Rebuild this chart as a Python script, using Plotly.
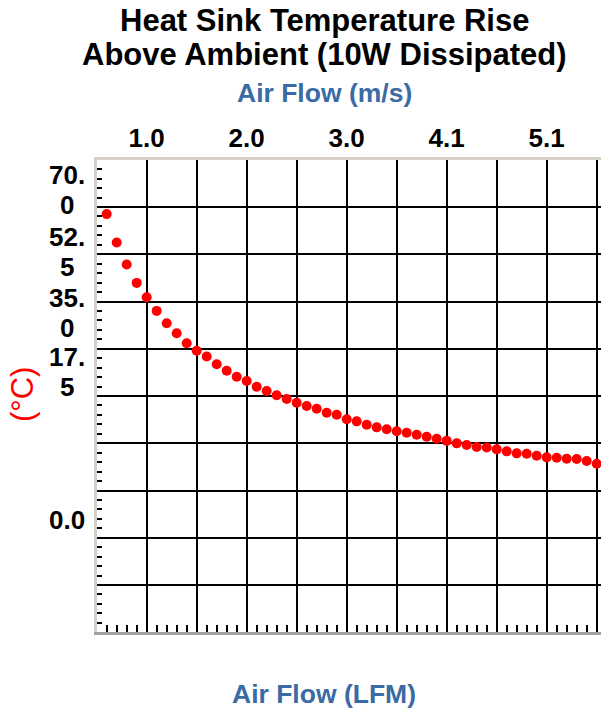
import plotly.graph_objects as go

# ---------------- data ----------------
airflow_lfm = [120, 140, 160, 180, 200, 220, 240, 260, 280, 300,
               320, 340, 360, 380, 400, 420, 440, 460, 480, 500,
               520, 540, 560, 580, 600, 620, 640, 660, 680, 700,
               720, 740, 760, 780, 800, 820, 840, 860, 880, 900,
               920, 940, 960, 980, 1000, 1020, 1040, 1060, 1080, 1100]
temp_rise_c = [59.44, 53.92, 49.64, 46.08, 43.30, 40.64, 38.25, 36.30, 34.36, 32.90,
               31.79, 30.28, 29.03, 27.86, 27.03, 25.92, 25.08, 24.25, 23.53, 22.81,
               22.17, 21.64, 20.86, 20.47, 19.58, 19.19, 18.53, 18.02, 17.64, 17.25,
               16.98, 16.59, 16.20, 15.81, 15.40, 14.91, 14.58, 14.19, 14.10, 13.75,
               13.36, 12.97, 12.89, 12.50, 12.19, 12.11, 11.92, 11.86, 11.47, 10.95]
top_tick_lfm = [200, 400, 600, 800, 1000]
top_tick_labels = ["1.0", "2.0", "3.0", "4.1", "5.1"]
y_tick_labels = ["70.0", "52.5", "35.0", "17.5", "0.0"]

LFM_TO_MS = 0.00508

# ---------------- layout constants ----------------
W, H = 601, 712
L, T = 97, 160
PW, PH = 504, 472
R, B = W - L - PW, H - T - PH
X_RANGE = [100.6, 1108.6]
Y_TOP, Y_BOTTOM = 70.0, -21.778
Y_RANGE = [Y_BOTTOM + 0.05, Y_TOP - 0.05]
Y_STEP = (Y_TOP - Y_BOTTOM) / 10
Y_LABEL_POS = [64.1, 52.1, 40.25, 28.7, 0.0]   # where the reference draws its labels

FONT = "Liberation Sans, Arial, sans-serif"
BLUE = "#3A6BA5"


def px_x(px):
    return (px - L) / PW


def px_y(py):
    return (H - B - py) / PH


fig = go.Figure()
fig.add_trace(go.Scatter(
    x=airflow_lfm, y=temp_rise_c, mode="markers",
    marker=dict(color="#FF0000", size=10, line=dict(width=0)),
    xaxis="x", yaxis="y",
    hovertemplate="%{x} LFM<br>%{y:.1f} °C<extra></extra>"))
fig.add_trace(go.Scatter(
    x=[v * LFM_TO_MS for v in airflow_lfm], y=temp_rise_c, mode="markers",
    marker=dict(opacity=0, size=1), xaxis="x2", yaxis="y",
    hoverinfo="skip"))

annotations = [
    dict(text="<b>Heat Sink Temperature Rise</b>", x=px_x(324), y=px_y(20.2),
         font=dict(size=31, color="black")),
    dict(text="<b>Above Ambient (10W Dissipated)</b>", x=px_x(324), y=px_y(54.9),
         font=dict(size=31, color="black")),
    dict(text="<b>Air Flow (m/s)</b>", x=px_x(324), y=px_y(93),
         font=dict(size=26.5, color=BLUE)),
    dict(text="<b>Air Flow (LFM)</b>", x=px_x(324), y=px_y(694),
         font=dict(size=26.5, color=BLUE)),
    dict(text="(°C)", x=px_x(22), y=px_y(395), textangle=-90,
         font=dict(size=31, color="#FF0000")),
]
for a in annotations:
    a.update(xref="paper", yref="paper", xanchor="center", yanchor="middle",
             showarrow=False)

# y labels, wrapped as in the reference ("70." over "0")
LINE_GAP = 30
for lab, pos in zip(y_tick_labels, Y_LABEL_POS):
    parts = [lab] if len(lab) <= 3 else [lab[:3], lab[3:]]
    n = len(parts)
    for i, part in enumerate(parts):
        shift = ((n - 1) / 2 - i) * LINE_GAP
        annotations.append(dict(
            text="<b>" + part + "</b>", xref="paper", yref="y", x=px_x(67), y=pos,
            yshift=shift, xanchor="center", yanchor="middle", showarrow=False,
            font=dict(size=26, color="black")))

fig.update_layout(
    width=W, height=H,
    margin=dict(l=L, r=R, t=T, b=B, pad=0, autoexpand=False),
    paper_bgcolor="white", plot_bgcolor="white", showlegend=False,
    font=dict(family=FONT, color="black"),
    xaxis=dict(range=X_RANGE, tick0=0, dtick=100, showgrid=True,
               gridcolor="black", gridwidth=2, showticklabels=False, ticks="",
               showline=True, linecolor="#A0A0A0", linewidth=3, zeroline=False,
               minor=dict(dtick=20, tick0=0, ticks="inside", ticklen=7,
                          tickwidth=2, tickcolor="black", showgrid=False)),
    xaxis2=dict(overlaying="x", side="top", anchor="y",
                range=[X_RANGE[0] * LFM_TO_MS, X_RANGE[1] * LFM_TO_MS],
                tickmode="array", tickvals=[v * LFM_TO_MS for v in top_tick_lfm],
                ticktext=["<b>" + t + "</b>" for t in top_tick_labels],
                showgrid=False, ticks="", showline=True, linecolor="#D4D0C8",
                linewidth=3, zeroline=False,
                tickfont=dict(size=26, color="black")),
    yaxis=dict(range=Y_RANGE, tick0=Y_TOP, dtick=Y_STEP, showgrid=True,
               gridcolor="black", gridwidth=2, showticklabels=False, ticks="",
               showline=True, linecolor="#D4D0C8", linewidth=3, zeroline=False,
               minor=dict(dtick=Y_STEP / 5, tick0=Y_TOP, ticks="inside",
                          ticklen=5, tickwidth=2, tickcolor="black",
                          showgrid=False)),
    annotations=annotations,
)

# the page's default 8px body margin would shift the whole chart; remove it
fig.write_html("out.html",
               config={"displayModeBar": False},
               post_script="document.body.style.margin='0';"
                           "document.body.style.overflow='hidden';")
